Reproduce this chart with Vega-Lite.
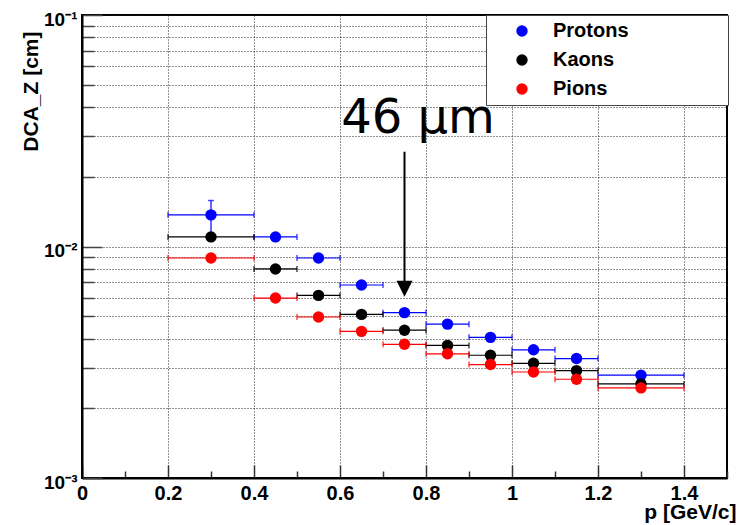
{
  "$schema": "https://vega.github.io/schema/vega-lite/v6.json",
  "width": 645,
  "height": 463,
  "autosize": {"type": "none"},
  "padding": {"left": 82, "top": 15, "right": 12, "bottom": 47},
  "background": "white",
  "config": {"view": {"stroke": "black", "strokeWidth": 2}, "font": "Liberation Sans"},
  "datasets": {
    "pts": [
      {"particle": "Protons", "p": 0.3, "plo": 0.2, "phi": 0.4, "dca": 0.0137, "elo": 0.0115, "ehi": 0.0158},
      {"particle": "Protons", "p": 0.45, "plo": 0.4, "phi": 0.5, "dca": 0.0110},
      {"particle": "Protons", "p": 0.55, "plo": 0.5, "phi": 0.6, "dca": 0.00892},
      {"particle": "Protons", "p": 0.65, "plo": 0.6, "phi": 0.7, "dca": 0.00682},
      {"particle": "Protons", "p": 0.75, "plo": 0.7, "phi": 0.8, "dca": 0.00518},
      {"particle": "Protons", "p": 0.85, "plo": 0.8, "phi": 0.9, "dca": 0.00462},
      {"particle": "Protons", "p": 0.95, "plo": 0.9, "phi": 1.0, "dca": 0.00405},
      {"particle": "Protons", "p": 1.05, "plo": 1.0, "phi": 1.1, "dca": 0.00358},
      {"particle": "Protons", "p": 1.15, "plo": 1.1, "phi": 1.2, "dca": 0.00328},
      {"particle": "Protons", "p": 1.3, "plo": 1.2, "phi": 1.4, "dca": 0.00278},
      {"particle": "Kaons", "p": 0.3, "plo": 0.2, "phi": 0.4, "dca": 0.0110},
      {"particle": "Kaons", "p": 0.45, "plo": 0.4, "phi": 0.5, "dca": 0.0080},
      {"particle": "Kaons", "p": 0.55, "plo": 0.5, "phi": 0.6, "dca": 0.00615},
      {"particle": "Kaons", "p": 0.65, "plo": 0.6, "phi": 0.7, "dca": 0.00509},
      {"particle": "Kaons", "p": 0.75, "plo": 0.7, "phi": 0.8, "dca": 0.00435},
      {"particle": "Kaons", "p": 0.85, "plo": 0.8, "phi": 0.9, "dca": 0.00374},
      {"particle": "Kaons", "p": 0.95, "plo": 0.9, "phi": 1.0, "dca": 0.00339},
      {"particle": "Kaons", "p": 1.05, "plo": 1.0, "phi": 1.1, "dca": 0.00313},
      {"particle": "Kaons", "p": 1.15, "plo": 1.1, "phi": 1.2, "dca": 0.00291},
      {"particle": "Kaons", "p": 1.3, "plo": 1.2, "phi": 1.4, "dca": 0.00255},
      {"particle": "Pions", "p": 0.3, "plo": 0.2, "phi": 0.4, "dca": 0.00892},
      {"particle": "Pions", "p": 0.45, "plo": 0.4, "phi": 0.5, "dca": 0.00599},
      {"particle": "Pions", "p": 0.55, "plo": 0.5, "phi": 0.6, "dca": 0.00496},
      {"particle": "Pions", "p": 0.65, "plo": 0.6, "phi": 0.7, "dca": 0.0043},
      {"particle": "Pions", "p": 0.75, "plo": 0.7, "phi": 0.8, "dca": 0.00378},
      {"particle": "Pions", "p": 0.85, "plo": 0.8, "phi": 0.9, "dca": 0.00344},
      {"particle": "Pions", "p": 0.95, "plo": 0.9, "phi": 1.0, "dca": 0.00309},
      {"particle": "Pions", "p": 1.05, "plo": 1.0, "phi": 1.1, "dca": 0.00287},
      {"particle": "Pions", "p": 1.15, "plo": 1.1, "phi": 1.2, "dca": 0.00267},
      {"particle": "Pions", "p": 1.3, "plo": 1.2, "phi": 1.4, "dca": 0.00245}
    ],
    "arrow": [{"p": 0.75, "ytop": 0.02567, "ybot": 0.00689, "yhead": 0.00657}],
    "note": [{"p": 0.7814, "dca": 0.031, "label": "46 μm"}]
  },
  "layer": [
    {
      "data": {"name": "pts"},
      "mark": {"type": "rule", "strokeWidth": 1.2},
      "encoding": {
        "x": {
          "field": "plo", "type": "quantitative",
          "scale": {"domain": [0, 1.5], "nice": false, "zero": false},
          "axis": {
            "title": "p [GeV/c]",
            "values": [0, 0.05, 0.1, 0.15, 0.2, 0.25, 0.3, 0.35, 0.4, 0.45, 0.5, 0.55, 0.6, 0.65, 0.7, 0.75, 0.8, 0.85, 0.9, 0.95, 1.0, 1.05, 1.1, 1.15, 1.2, 1.25, 1.3, 1.35, 1.4, 1.45, 1.5],
            "labelExpr": "abs(datum.value/0.2 - round(datum.value/0.2)) < 0.001 ? toString(round(datum.value*10)/10) : ''",
            "labelFlush": false,
            "labelOverlap": false,
            "labelBound": false,
            "labelFont": "Liberation Sans",
            "labelFontWeight": "bold",
            "labelFontSize": 20,
            "labelColor": "black",
            "labelPadding": 18,
            "tickSize": {"condition": {"test": "abs(datum.value/0.2 - round(datum.value/0.2)) < 0.001", "value": -13}, "value": -7},
            "tickColor": "#333",
            "tickWidth": 1.5,
            "grid": true,
            "gridDash": [1, 2],
            "gridColor": "#222",
            "gridWidth": 1,
            "gridOpacity": {"condition": {"test": "abs(datum.value/0.2 - round(datum.value/0.2)) < 0.001", "value": 1}, "value": 0},
            "domainColor": "black",
            "domainWidth": 2,
            "titleFont": "Liberation Sans",
            "titleFontSize": 21,
            "titleFontWeight": "bold",
            "titleColor": "black",
            "titleAlign": "right",
            "titleBaseline": "alphabetic",
            "titleX": 654,
            "titleY": 40
          }
        },
        "x2": {"field": "phi"},
        "y": {
          "field": "dca", "type": "quantitative",
          "scale": {"type": "log", "domain": [0.001, 0.1], "nice": false},
          "axis": {
            "title": "DCA_Z [cm]",
            "values": [0.001, 0.002, 0.003, 0.004, 0.005, 0.006, 0.007, 0.008, 0.009, 0.01, 0.02, 0.03, 0.04, 0.05, 0.06, 0.07, 0.08, 0.09, 0.1],
            "labelExpr": "datum.value == 0.1 ? '10⁻¹' : datum.value == 0.01 ? '10⁻²' : datum.value == 0.001 ? '10⁻³' : ''",
            "labelOverlap": false,
            "labelBound": false,
            "labelFont": "Liberation Sans",
            "labelFontWeight": "bold",
            "labelFontSize": 19,
            "labelColor": "black",
            "labelPadding": 25,
            "labelOffset": 4,
            "tickSize": {"condition": {"test": "datum.value == 0.1 || datum.value == 0.01 || datum.value == 0.001", "value": -20}, "value": -12},
            "tickColor": "#444",
            "tickWidth": 1.5,
            "grid": true,
            "gridDash": [1, 2],
            "gridColor": "#222",
            "gridWidth": 1,
            "domainColor": "black",
            "domainWidth": 2,
            "titleFont": "Liberation Sans",
            "titleFontSize": 21,
            "titleFontWeight": "bold",
            "titleColor": "black",
            "titleAngle": -90,
            "titleAlign": "right",
            "titleBaseline": "alphabetic",
            "titleX": -44.7,
            "titleY": 16
          }
        },
        "color": {
          "field": "particle", "type": "nominal",
          "scale": {"domain": ["Protons", "Kaons", "Pions"], "range": ["#0000ff", "#000000", "#ff0000"]},
          "legend": {
            "orient": "none",
            "legendX": 404,
            "legendY": 0,
            "title": ".",
            "titleOrient": "right",
            "titleFontSize": 1,
            "titleOpacity": 0,
            "titlePadding": 92,
            "padding": 6,
            "strokeColor": "#444",
            "fillColor": "white",
            "symbolType": "circle",
            "symbolSize": 130,
            "symbolOffset": 20,
            "symbolStrokeWidth": 0,
            "symbolOpacity": 1,
            "labelOffset": 21,
            "labelLimit": 1000,
            "labelFont": "Liberation Sans",
            "labelFontSize": 20,
            "labelFontWeight": "bold",
            "labelColor": "black",
            "rowPadding": 9,
            "encode": {"symbols": {"update": {"opacity": {"value": 1}, "fillOpacity": {"value": 1}}}}
          }
        }
      }
    },
    {
      "data": {"name": "pts"},
      "mark": {"type": "tick", "orient": "vertical", "size": 6, "thickness": 1.5},
      "encoding": {
        "x": {"field": "plo", "type": "quantitative"},
        "y": {"field": "dca", "type": "quantitative"},
        "color": {"field": "particle", "type": "nominal"}
      }
    },
    {
      "data": {"name": "pts"},
      "mark": {"type": "tick", "orient": "vertical", "size": 6, "thickness": 1.5},
      "encoding": {
        "x": {"field": "phi", "type": "quantitative"},
        "y": {"field": "dca", "type": "quantitative"},
        "color": {"field": "particle", "type": "nominal"}
      }
    },
    {
      "data": {"name": "pts"},
      "transform": [{"filter": "isValid(datum.elo)"}],
      "mark": {"type": "rule", "strokeWidth": 1.2},
      "encoding": {
        "x": {"field": "p", "type": "quantitative"},
        "y": {"field": "elo", "type": "quantitative"},
        "y2": {"field": "ehi"},
        "color": {"field": "particle", "type": "nominal"}
      }
    },
    {
      "data": {"name": "pts"},
      "transform": [{"filter": "isValid(datum.elo)"}],
      "mark": {"type": "tick", "orient": "horizontal", "size": 6, "thickness": 1.5},
      "encoding": {
        "x": {"field": "p", "type": "quantitative"},
        "y": {"field": "ehi", "type": "quantitative"},
        "color": {"field": "particle", "type": "nominal"}
      }
    },
    {
      "data": {"name": "pts"},
      "mark": {"type": "point", "shape": "circle", "filled": true, "size": 130, "opacity": 1},
      "encoding": {
        "x": {"field": "p", "type": "quantitative"},
        "y": {"field": "dca", "type": "quantitative"},
        "color": {"field": "particle", "type": "nominal"}
      }
    },
    {
      "data": {"name": "arrow"},
      "mark": {"type": "rule", "strokeWidth": 2, "color": "black"},
      "encoding": {
        "x": {"field": "p", "type": "quantitative"},
        "y": {"field": "ytop", "type": "quantitative"},
        "y2": {"field": "ybot"}
      }
    },
    {
      "data": {"name": "arrow"},
      "mark": {"type": "point", "shape": "M-1,-1L1,-1L0,1Z", "filled": true, "size": 256, "color": "black", "opacity": 1},
      "encoding": {
        "x": {"field": "p", "type": "quantitative"},
        "y": {"field": "yhead", "type": "quantitative"}
      }
    },
    {
      "data": {"name": "note"},
      "mark": {"type": "text", "font": "DejaVu Sans", "fontSize": 48, "align": "center", "baseline": "alphabetic", "color": "black"},
      "encoding": {
        "x": {"field": "p", "type": "quantitative"},
        "y": {"field": "dca", "type": "quantitative"},
        "text": {"field": "label"}
      }
    }
  ]
}
